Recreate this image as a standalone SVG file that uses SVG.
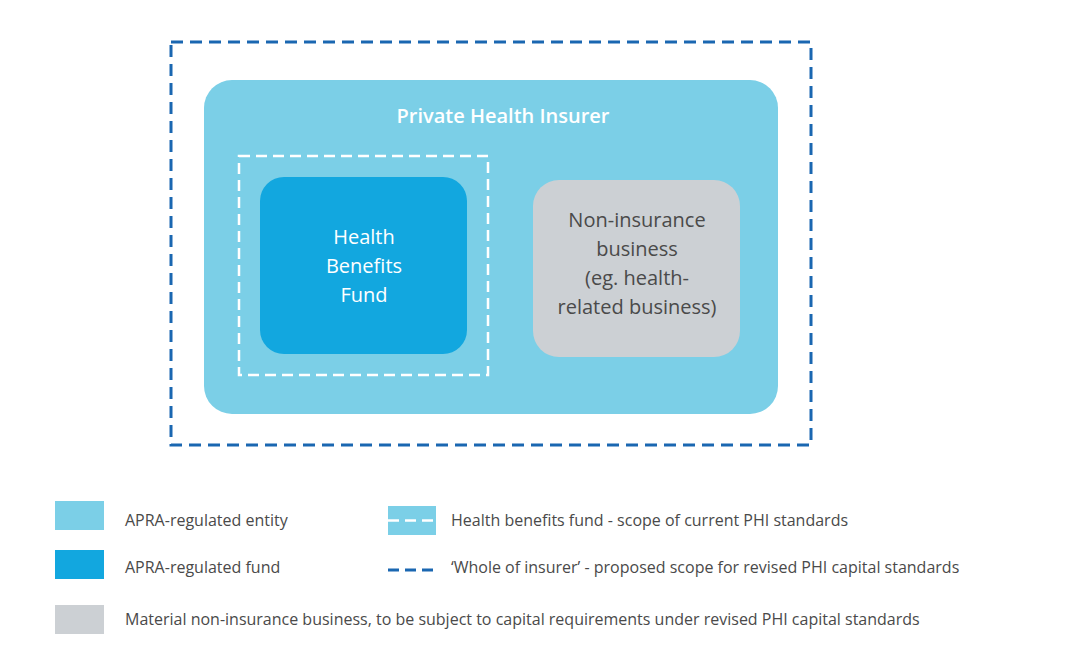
<svg xmlns="http://www.w3.org/2000/svg" width="1072" height="647" viewBox="0 0 1072 647">
<style>
text{font-family:"Open Sans","Liberation Sans",sans-serif}
.lg{font-size:16px;fill:#4a4a4a}
.w{fill:#fff;font-size:20px;text-anchor:middle}
.g{fill:#4a4a4a;font-size:20px;text-anchor:middle}
</style>
<rect width="1072" height="647" fill="#fff"/>
<g id="whole-insurer"><rect x="171" y="42" width="640" height="403" fill="none" stroke="#1a67b1" stroke-width="3" stroke-dasharray="12,7"/></g>
<g id="private-health-insurer"><rect x="204" y="80" width="574" height="334" rx="28" fill="#7bcfe7"/>
<text x="503" y="123" class="w" font-weight="600" font-size="22">Private Health Insurer</text></g>
<g id="hbf-scope"><rect x="239" y="156" width="249" height="219" fill="none" stroke="#fff" stroke-width="2.5" stroke-dasharray="11,6"/></g>
<g id="health-benefits-fund"><rect x="260" y="177" width="207" height="177" rx="24" fill="#12a7df"/>
<text class="w"><tspan x="364" y="244">Health</tspan><tspan x="364" y="273">Benefits</tspan><tspan x="364" y="302">Fund</tspan></text></g>
<g id="non-insurance"><rect x="533" y="180" width="207" height="177" rx="26" fill="#ccd0d4"/>
<text class="g"><tspan x="637" y="227">Non-insurance</tspan><tspan x="637" y="256">business</tspan><tspan x="637" y="285">(eg. health-</tspan><tspan x="637" y="314">related business)</tspan></text></g>
<g id="connectors"/>
<g id="legend">
<rect x="55" y="501" width="49" height="29" fill="#7bcfe7"/>
<text x="125" y="526" class="lg">APRA-regulated entity</text>
<rect x="55" y="550" width="49" height="29" fill="#12a7df"/>
<text x="125" y="573" class="lg">APRA-regulated fund</text>
<rect x="55" y="605" width="49" height="29" fill="#ccd0d4"/>
<text x="125" y="625" class="lg">Material non-insurance business, to be subject to capital requirements under revised PHI capital standards</text>
<rect x="388" y="506" width="48" height="29" fill="#7bcfe7"/>
<line x1="388" y1="520.5" x2="436" y2="520.5" stroke="#fff" stroke-width="2.5" stroke-dasharray="11,6"/>
<text x="451" y="526" class="lg">Health benefits fund - scope of current PHI standards</text>
<line x1="388" y1="570" x2="436" y2="570" stroke="#1a67b1" stroke-width="3" stroke-dasharray="11,6"/>
<text x="451" y="573" class="lg">‘Whole of insurer’ - proposed scope for revised PHI capital standards</text>
</g>
</svg>
